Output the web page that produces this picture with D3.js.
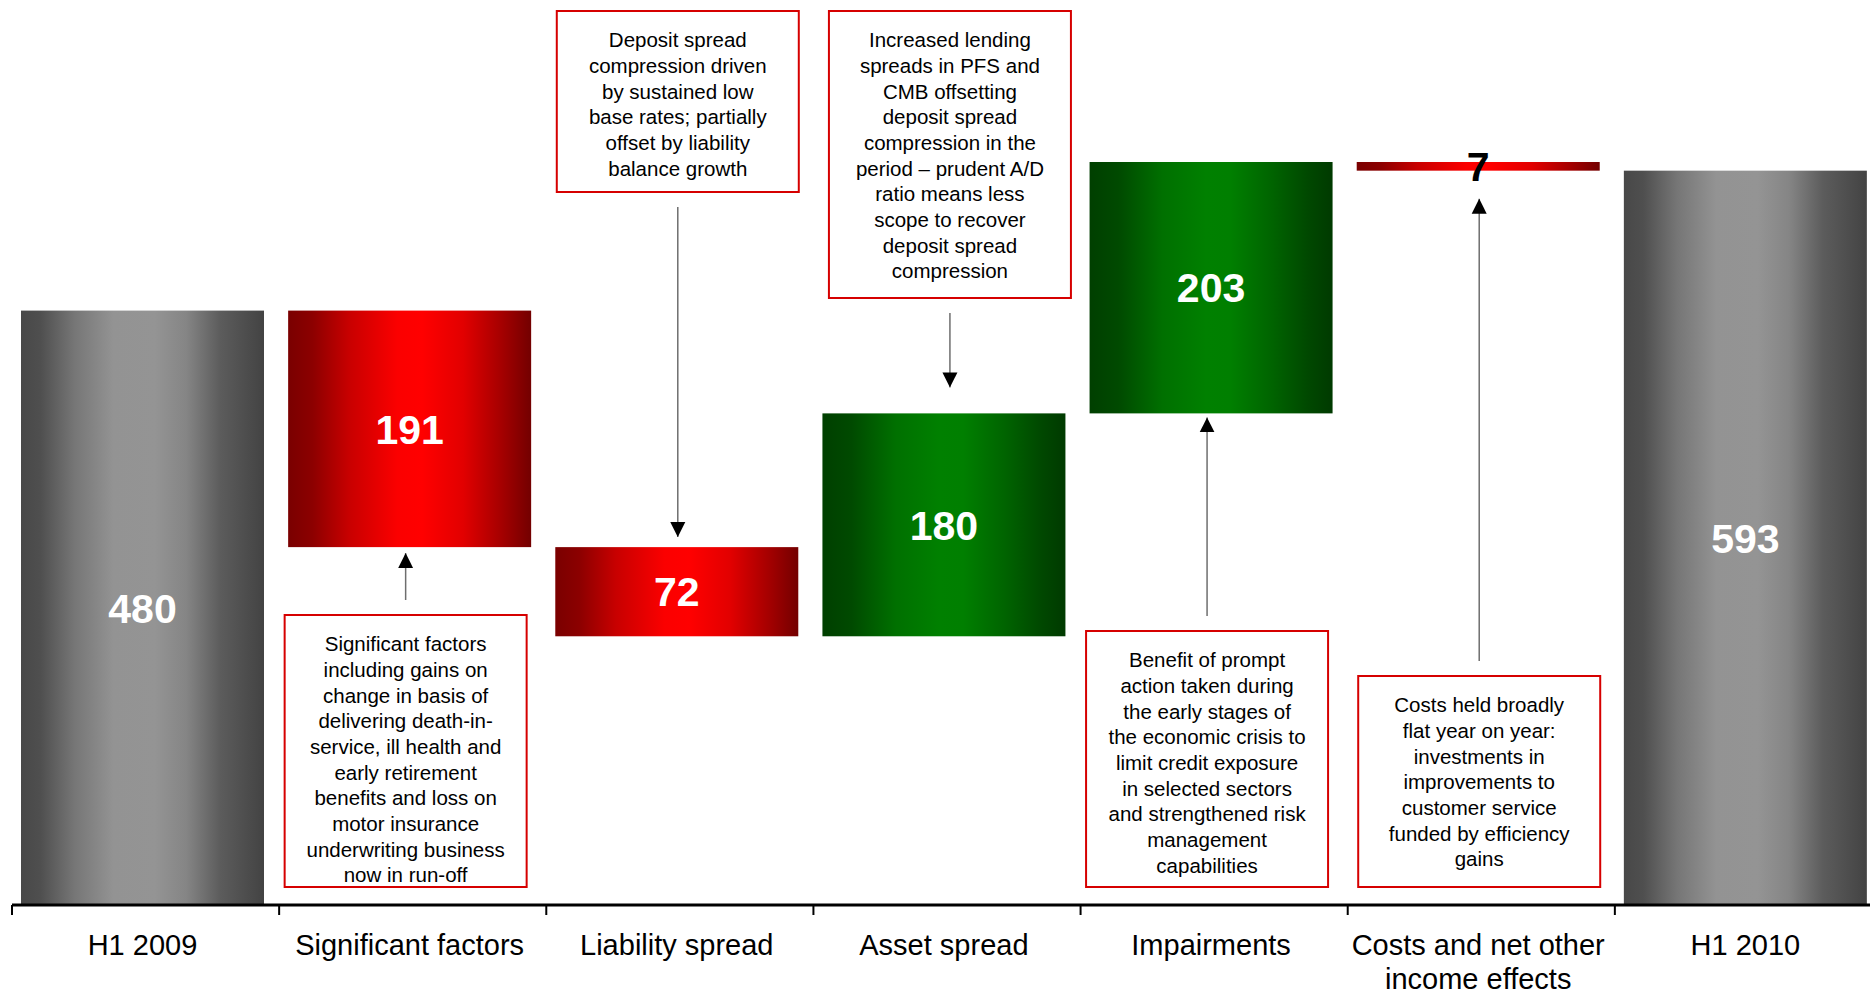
<!DOCTYPE html>
<html>
<head>
<meta charset="utf-8">
<script src="https://cdn.jsdelivr.net/npm/d3@7"></script>
<style>
  html, body { margin: 0; padding: 0; background: #ffffff; }
  svg { display: block; }
</style>
</head>
<body>
<svg id="chart" width="1870" height="998"></svg>
<script>
// Waterfall: H1 2009 to H1 2010 profit bridge (£m)
const categories = ["H1 2009", "Significant factors", "Liability spread", "Asset spread",
                    "Impairments", "Costs and net other income effects", "H1 2010"];
const categoryLines = [["H1 2009"], ["Significant factors"], ["Liability spread"], ["Asset spread"],
                       ["Impairments"], ["Costs and net other", "income effects"], ["H1 2010"]];
const values = [480, -191, -72, 180, 203, -7, 593];
const kinds = ["total", "delta", "delta", "delta", "delta", "delta", "total"];
const yDomain = [0, 600];

// Commentary attached to individual steps
const noteCategory = ["Significant factors", "Liability spread", "Asset spread", "Impairments",
                      "Costs and net other income effects"];
const noteText = [
  ["Significant factors", "including gains on", "change in basis of", "delivering death-in-",
   "service, ill health and", "early retirement", "benefits and loss on", "motor insurance",
   "underwriting business", "now in run-off"],
  ["Deposit spread", "compression driven", "by sustained low", "base rates; partially",
   "offset by liability", "balance growth"],
  ["Increased lending", "spreads in PFS and", "CMB offsetting", "deposit spread",
   "compression in the", "period \u2013 prudent A/D", "ratio means less", "scope to recover",
   "deposit spread", "compression"],
  ["Benefit of prompt", "action taken during", "the early stages of", "the economic crisis to",
   "limit credit exposure", "in selected sectors", "and strengthened risk", "management",
   "capabilities"],
  ["Costs held broadly", "flat year on year:", "investments in", "improvements to",
   "customer service", "funded by efficiency", "gains"]
];

// ---- layout ----
const svg = d3.select("#chart");
const baseY = 905;
const x = d3.scaleBand().domain(categories).range([12, 1882]);
const y = d3.scaleLinear().domain(yDomain).range([baseY, 162]);
const barW = 243, barOff = 9;

// running totals -> bar extents
let run = 0;
const bars = categories.map((c, i) => {
  let lo, hi;
  if (kinds[i] === "total") { lo = 0; hi = values[i]; run = values[i]; }
  else { const s = run; run += values[i]; lo = Math.min(s, run); hi = Math.max(s, run); }
  return { cat: c, v: values[i], kind: kinds[i], lo, hi };
});

// ---- gradients ----
const defs = svg.append("defs");
function grad(id, stops) {
  const g = defs.append("linearGradient").attr("id", id)
    .attr("x1", "0%").attr("x2", "100%").attr("y1", "0%").attr("y2", "0%");
  stops.forEach(([o, c]) => g.append("stop").attr("offset", o).attr("stop-color", c));
}
grad("gGrey", [[0, "#484848"], [0.08, "#4f4f4f"], [0.22, "#767676"], [0.38, "#939393"],
               [0.55, "#949494"], [0.68, "#858585"], [0.82, "#5c5c5c"], [1, "#434343"]]);
grad("gRed", [[0, "#7a0000"], [0.1, "#8c0000"], [0.25, "#c80000"], [0.45, "#fb0000"],
              [0.55, "#ff0000"], [0.72, "#e20000"], [0.88, "#a40000"], [1, "#730000"]]);
grad("gGreen", [[0, "#003f00"], [0.12, "#004a00"], [0.3, "#007000"], [0.48, "#008000"],
                [0.58, "#007f00"], [0.75, "#006400"], [0.9, "#004800"], [1, "#003a00"]]);

const fillFor = d => d.kind === "total" ? "url(#gGrey)" : (d.v < 0 ? "url(#gRed)" : "url(#gGreen)");

// ---- bars ----
svg.append("g").selectAll("rect").data(bars).join("rect")
  .attr("x", d => x(d.cat) + barOff)
  .attr("width", barW)
  .attr("y", d => y(d.hi))
  .attr("height", d => y(d.lo) - y(d.hi))
  .attr("fill", fillFor);

// ---- value labels ----
svg.append("g").selectAll("text").data(bars).join("text")
  .attr("x", d => x(d.cat) + barOff + barW / 2)
  .attr("y", d => (y(d.lo) + y(d.hi)) / 2)
  .attr("dy", "0.36em")
  .attr("text-anchor", "middle")
  .attr("font-family", "'Liberation Sans', Arial, sans-serif")
  .attr("font-weight", "bold")
  .attr("font-size", 41)
  .attr("fill", d => (y(d.lo) - y(d.hi)) < 40 ? "#000000" : "#ffffff")
  .text(d => Math.abs(d.v));

// ---- category axis ----
const axis = svg.append("g");
axis.append("line").attr("x1", 12).attr("x2", 1870).attr("y1", baseY).attr("y2", baseY)
  .attr("stroke", "#000").attr("stroke-width", 3);
axis.selectAll("line.tick").data(categories).join("line").attr("class", "tick")
  .attr("x1", d => x(d)).attr("x2", d => x(d))
  .attr("y1", baseY).attr("y2", baseY + 10)
  .attr("stroke", "#000").attr("stroke-width", 2);
axis.selectAll("text").data(categories).join("text")
  .attr("x", d => x(d) + barOff + barW / 2)
  .attr("y", 955)
  .attr("text-anchor", "middle")
  .attr("font-family", "'Liberation Sans', Arial, sans-serif")
  .attr("font-size", 29)
  .attr("fill", "#000")
  .each(function (d, i) {
    const t = d3.select(this);
    categoryLines[i].forEach((ln, k) => {
      t.append("tspan").attr("x", x(d) + barOff + barW / 2).attr("dy", k === 0 ? 0 : 34).text(ln);
    });
  });

// ---- notes with arrows ----
// box placement relative to its bar: above or below
const noteLayout = [
  { side: "below", dx: -4,  top: 615, bottom: 887, gap: 6 },
  { side: "above", dx: 1,   top: 11,  bottom: 192, gap: 10 },
  { side: "above", dx: 6,   top: 11,  bottom: 298, gap: 26 },
  { side: "below", dx: -4,  top: 631, bottom: 887, gap: 4 },
  { side: "below", dx: 1,   top: 676, bottom: 887, gap: 28 }
];
const boxW = 242, lineH = 25.7;
defs.append("marker").attr("id", "head").attr("viewBox", "0 0 10 10")
  .attr("refX", 10).attr("refY", 5).attr("markerUnits", "userSpaceOnUse")
  .attr("markerWidth", 15).attr("markerHeight", 16).attr("orient", "auto")
  .append("path").attr("d", "M0,0 L10,5 L0,10 Z").attr("fill", "#000");

const notes = svg.append("g");
noteCategory.forEach((cat, i) => {
  const L = noteLayout[i];
  const b = bars[categories.indexOf(cat)];
  const cx = x(cat) + barOff + barW / 2 + L.dx;
  const g = notes.append("g");
  g.append("rect").attr("x", cx - boxW / 2).attr("y", L.top)
    .attr("width", boxW).attr("height", L.bottom - L.top)
    .attr("fill", "#fff").attr("stroke", "#d60000").attr("stroke-width", 2);
  noteText[i].forEach((ln, k) => {
    g.append("text").attr("x", cx).attr("y", L.top + 29 + k * lineH).attr("dy", "0.35em")
      .attr("text-anchor", "middle")
      .attr("font-family", "'Liberation Sans', Arial, sans-serif")
      .attr("font-size", 20.5).attr("fill", "#000").text(ln);
  });
  let y1, y2;
  if (L.side === "below") { y1 = L.top - 15; y2 = y(b.lo) + L.gap; }
  else { y1 = L.bottom + 15; y2 = y(b.hi) - L.gap; }
  g.append("line").attr("x1", cx).attr("x2", cx).attr("y1", y1).attr("y2", y2)
    .attr("stroke", "#6e6e6e").attr("stroke-width", 1.5)
    .attr("marker-end", "url(#head)");
});
</script>
</body>
</html>
